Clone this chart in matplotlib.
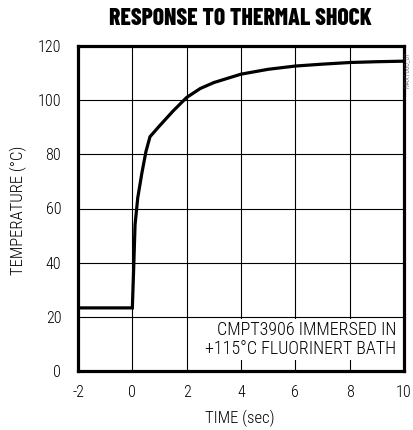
import matplotlib
matplotlib.use("Agg")
import matplotlib.pyplot as plt
import logging
logging.getLogger('matplotlib.font_manager').setLevel(logging.ERROR)

BODY = ['Roboto Condensed', 'Archivo Narrow', 'Barlow Condensed', 'DejaVu Sans']
TITLE = ['Barlow Condensed', 'Archivo Narrow', 'DejaVu Sans']
plt.rcParams['font.family'] = BODY
plt.rcParams['font.weight'] = 'light'

time_sec = [-2.0, 0.0, 0.05, 0.1, 0.2, 0.35, 0.5, 0.65, 1.0, 1.5, 2.0, 2.5, 3.0, 4.0, 5.0, 6.0, 7.0, 8.0, 9.0, 10.0]
temp_c = [23.3, 23.3, 38.0, 54.0, 64.0, 73.0, 81.0, 86.5, 90.5, 96.0, 101.0, 104.3, 106.5, 109.6, 111.4, 112.6, 113.3, 113.9, 114.2, 114.4]

x_ticks = [-2, 0, 2, 4, 6, 8, 10]
y_ticks = [0, 20, 40, 60, 80, 100, 120]

fig = plt.figure(figsize=(4.13, 4.30), dpi=100)
ax = fig.add_axes([78/413, 1-371/430, (404-78)/413, (371-46)/430])

ax.plot(time_sec, temp_c, color='black', lw=2.3, solid_joinstyle='miter', zorder=3)

ax.set_xlim(-2, 10)
ax.set_ylim(0, 120)
ax.set_xticks(x_ticks)
ax.set_yticks(y_ticks)
ax.set_xticklabels([str(v) for v in x_ticks], fontsize=11.5, fontweight='light')
ax.set_yticklabels([str(v) for v in y_ticks], fontsize=11.5, fontweight='light')
ax.tick_params(axis='x', length=0, pad=10)
ax.tick_params(axis='y', length=0, pad=12)
ax.grid(True, color='black', lw=0.8, zorder=1)
for s in ax.spines.values():
    s.set_linewidth(2.3)
    s.set_zorder(4)

fig.text(240/413, 1-418/430, 'TIME (sec)', ha='center', va='center', fontsize=12, fontweight='light')
fig.text(18/413, 1-210/430, 'TEMPERATURE (°C)', ha='center', va='center', fontsize=12,
         rotation=90, fontweight='light')

ax.text(9.72, 18.5, 'CMPT3906 IMMERSED IN\n+115°C FLUORINERT BATH', ha='right', va='top',
        fontsize=13, linespacing=1.1, zorder=5, fontweight='light',
        bbox=dict(facecolor='white', edgecolor='none', pad=1))

fig.text(240/413, 1-19/430, 'RESPONSE TO THERMAL SHOCK', ha='center', va='center',
         fontsize=17, fontweight='heavy', family=TITLE)
fig.text(408/413, 1-70/430, 'MAX1660_07', rotation=90, ha='center', va='center',
         fontsize=5, color='#444444')

fig.savefig('out.png', dpi=100)
